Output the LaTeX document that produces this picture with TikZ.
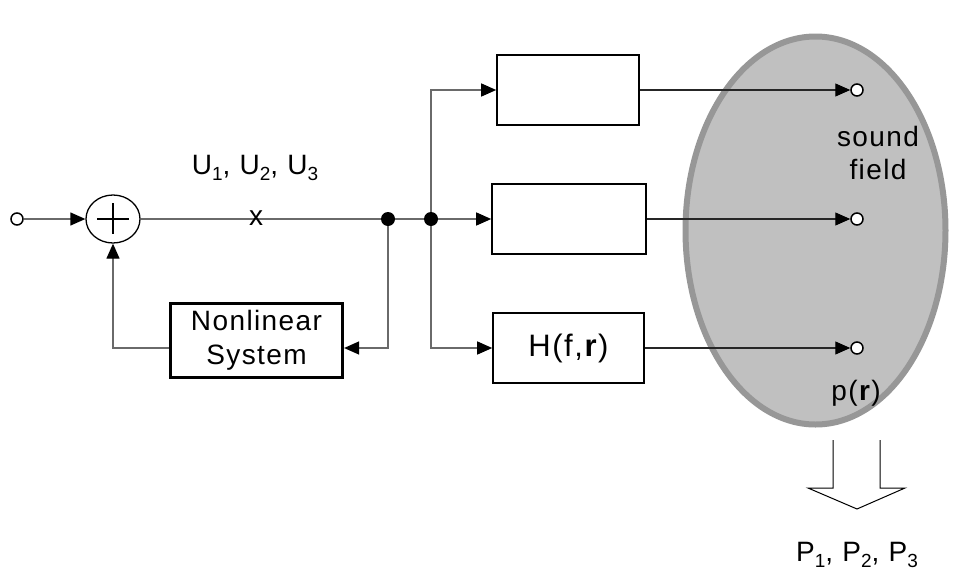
\documentclass[tikz,border=0pt]{standalone}
\usepackage{fontspec}
\setmainfont{Liberation Sans}[LetterSpace=5]
\usetikzlibrary{arrows.meta,shapes.geometric}
\definecolor{wire}{HTML}{6A6A6A}
\definecolor{fieldfill}{HTML}{C0C0C0}
\definecolor{fieldedge}{HTML}{979797}
\newcommand{\sbs}[1]{\raisebox{-0.4ex}{\fontsize{19}{19}\selectfont #1}}
\begin{document}
\begin{tikzpicture}[x=1pt,y=-1pt,
  wireline/.style={draw=wire,line width=1.3pt},
  arr/.style={wireline,-{Triangle[length=15pt,width=13pt,color=black]}},
  block/.style={draw=black,line width=1.6pt,fill=white,inner sep=0pt},
  port/.style={circle,draw=black,line width=1.5pt,fill=white,minimum size=12pt,inner sep=0pt},
  joint/.style={circle,fill=black,minimum size=14pt,inner sep=0pt},
  lbl/.style={font=\fontsize{28}{32}\selectfont,inner sep=0pt}]
\useasboundingbox (0,0) rectangle (954,576);

% sound field region
\draw[fill=fieldfill,draw=fieldedge,line width=6pt] (815.5,230.5) ellipse [x radius=130, y radius=194];

% input and summing junction
\node[port] (in) at (17,219) {};
\node[ellipse,draw=black,line width=1.3pt,fill=white,minimum width=54pt,minimum height=48pt,inner sep=0pt] (sum) at (113,219) {};
\draw[black,line width=1.5pt] (97,219) -- (129,219) (113,203) -- (113,234);

% branch points
\node[joint] (j1) at (388,219) {};
\node[joint] (j2) at (431,219) {};

% feedback block
\node[block,line width=3.2pt,minimum width=172pt,minimum height=74pt,align=center,
      font=\fontsize{28}{34}\selectfont] (nl) at (256.5,340.5) {Nonlinear\\System};

% transfer blocks
\node[block,minimum width=142pt,minimum height=70pt] (b1) at (568,90) {};
\node[block,minimum width=154pt,minimum height=70pt] (b2) at (569,219) {};
\node[block,minimum width=151pt,minimum height=70pt,font=\fontsize{31}{34}\selectfont] (b3) at (568.5,348) {H(f,\textbf{r})};

% observation points
\node[port] (o1) at (857,90) {};
\node[port] (o2) at (857,219) {};
\node[port] (o3) at (857,348) {};

% signal path
\draw[arr] (in) -- (sum);
\draw[wireline] (sum) -- (j1);
\draw[wireline] (j1) -- (j2);
\coordinate (fbr) at (388,348);
\coordinate (fbl) at (113,348);
\draw[arr] (j1) -- (fbr) -- (nl.east |- fbr);
\draw[arr] (nl.west |- fbl) -- (fbl) -- (sum.south);

\coordinate (up) at (431,90);
\coordinate (dn) at (431,348);
\draw[arr] (j2) -- (up) -- (b1.west);
\draw[arr] (j2) -- (b2.west);
\draw[arr] (j2) -- (dn) -- (b3.west);

\draw[arr,draw=black!85,line width=1.1pt] (b1.east) -- (o1.west);
\draw[arr,draw=black!85,line width=1.1pt] (b2.east) -- (o2.west);
\draw[arr,draw=black!85,line width=1.1pt] (b3.east) -- (o3.west);

% labels
\node[lbl] (xl) at (256,218) {x};
\node[lbl] (ul) at (255,168) {U\sbs{1}, U\sbs{2}, U\sbs{3}};
\node[lbl,align=center,font=\fontsize{28}{33}\selectfont] (sf) at (878,153) {sound\\field};
\node[lbl] (pr) at (856,393) {p(\textbf{r})};

% hollow output arrow
\coordinate (a1) at (833,440);
\coordinate (a2) at (833,488);
\coordinate (a3) at (808,488);
\coordinate (a4) at (857,509);
\coordinate (a5) at (905,488);
\coordinate (a6) at (880,488);
\coordinate (a7) at (880,440);
\draw[black,line width=1pt,line join=miter] (a1) -- (a2) -- (a3) -- (a4) -- (a5) -- (a6) -- (a7);
\node[lbl] (pl) at (857,555) {P\sbs{1}, P\sbs{2}, P\sbs{3}};
\end{tikzpicture}
\end{document}
